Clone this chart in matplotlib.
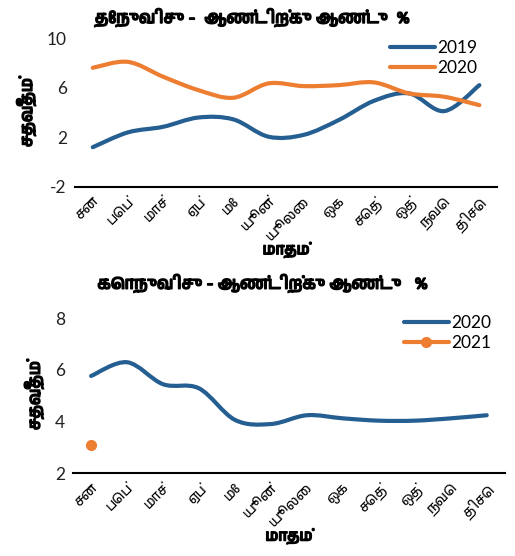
import matplotlib
matplotlib.use('Agg')
import matplotlib.pyplot as plt
import matplotlib.patheffects as pe
from matplotlib.path import Path
from matplotlib.patches import PathPatch
from matplotlib.lines import Line2D
from matplotlib import font_manager

months = ['சன', 'பெப்', 'மாச்', 'ஏப்', 'மே', 'யூன்', 'யூலை', 'ஒக', 'செத்', 'ஒத்', 'நவெ', 'திசெ']

# top chart
top_2019 = [1.2, 2.4, 2.85, 3.6, 3.45, 2.05, 2.2, 3.4, 4.95, 5.55, 4.12, 6.22]
top_2020 = [7.62, 8.1, 6.9, 5.82, 5.2, 6.36, 6.14, 6.22, 6.44, 5.55, 5.28, 4.6]
# bottom chart
bot_2020 = [5.76, 6.29, 5.44, 5.28, 4.06, 3.9, 4.24, 4.12, 4.03, 4.03, 4.12, 4.24]
bot_2021 = [3.07]

BLUE = '#255E91'
ORANGE = '#ED7D31'

# look for any font with Tamil glyphs
tamil = [f.name for f in font_manager.fontManager.ttflist
         if 'tamil' in f.name.lower() or f.name in ('FreeSans', 'FreeSerif', 'Lohit Tamil')]
tfam = sorted(set(tamil)) + ['DejaVu Sans']
nfam = ['Lato', 'DejaVu Sans']
heavy = [pe.withStroke(linewidth=1.1, foreground='black')]


def smooth(ax, xs, ys, color):
    # Excel-style smoothed line: bezier with catmull-rom control points
    pts = list(zip(xs, ys))
    verts = [pts[0]]
    codes = [Path.MOVETO]
    n = len(pts)
    for i in range(n - 1):
        p0 = pts[i - 1] if i > 0 else pts[i]
        p1 = pts[i]
        p2 = pts[i + 1]
        p3 = pts[i + 2] if i + 2 < n else pts[i + 1]
        c1 = (p1[0] + (p2[0] - p0[0]) / 6, p1[1] + (p2[1] - p0[1]) / 6)
        c2 = (p2[0] - (p3[0] - p1[0]) / 6, p2[1] - (p3[1] - p1[1]) / 6)
        verts += [c1, c2, p2]
        codes += [Path.CURVE4] * 3
    ax.add_patch(PathPatch(Path(verts, codes), fill=False, edgecolor=color,
                           lw=3, capstyle='round', joinstyle='round'))


def style(ax, ylim, yticks):
    ax.set_xlim(-0.5, 11.5)
    ax.set_ylim(*ylim)
    ax.set_yticks(yticks)
    ax.set_yticklabels([str(t) for t in yticks], family=nfam, fontsize=12.5, color='#222222')
    ax.set_xticks(range(12))
    ax.set_xticklabels(months, rotation=45, ha='right', rotation_mode='anchor',
                       family=tfam, fontsize=10)
    ax.tick_params(length=0, pad=6)
    for s in ['top', 'right', 'left']:
        ax.spines[s].set_visible(False)
    ax.spines['bottom'].set_linewidth(1.5)
    yl = ax.set_ylabel('சதவீதம்', family=tfam, fontsize=12, fontweight='bold', labelpad=8)
    yl.set_path_effects(heavy)
    xl = ax.set_xlabel('மாதம்', family=tfam, fontsize=11, fontweight='bold', labelpad=0)
    xl.set_path_effects(heavy)


fig = plt.figure(figsize=(5.15, 5.56), dpi=100)
x = list(range(12))

ax1 = fig.add_axes([0.146, 0.664, 0.819, 0.267])
smooth(ax1, x, top_2019, BLUE)
smooth(ax1, x, top_2020, ORANGE)
style(ax1, (-2, 10), [10, 6, 2, -2])
h1 = [Line2D([], [], color=BLUE, lw=3, solid_capstyle='round'),
      Line2D([], [], color=ORANGE, lw=3, solid_capstyle='round')]
ax1.legend(h1, ['2019', '2020'], loc='upper right', bbox_to_anchor=(0.99, 1.095),
           frameon=False, prop={'family': nfam, 'size': 12.5},
           handlelength=2.6, handletextpad=0.1, labelspacing=0.25)
fig.text(0.49, 0.968, 'தேநுவிசு -  ஆண்டிற்கு ஆண்டு  %', ha='center', va='center',
         family=tfam, fontsize=12, fontweight='bold', path_effects=heavy)

ax2 = fig.add_axes([0.142, 0.149, 0.838, 0.279])
smooth(ax2, x, bot_2020, BLUE)
ax2.plot([0], bot_2021, 'o', color=ORANGE, ms=7)
style(ax2, (2, 8), [8, 6, 4, 2])
h2 = [Line2D([], [], color=BLUE, lw=3, solid_capstyle='round'),
      Line2D([], [], color=ORANGE, lw=3, marker='o', ms=7, solid_capstyle='round')]
ax2.legend(h2, ['2020', '2021'], loc='upper right', bbox_to_anchor=(1.004, 1.12),
           frameon=False, prop={'family': nfam, 'size': 12.5},
           handlelength=2.6, handletextpad=0.1, labelspacing=0.25)
fig.text(0.51, 0.49, 'கொநுவிசு - ஆண்டிற்கு ஆண்டு   %', ha='center', va='center',
         family=tfam, fontsize=12, fontweight='bold', path_effects=heavy)

fig.savefig('out.png', dpi=100)
